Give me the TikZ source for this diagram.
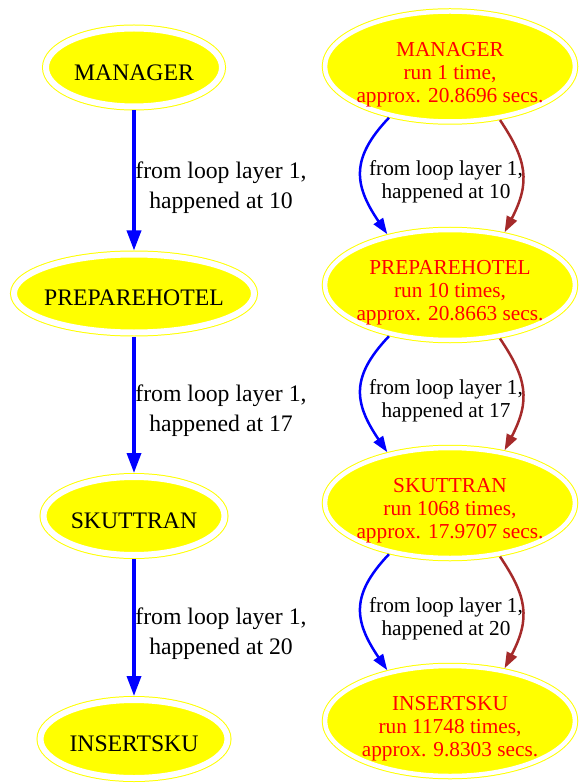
\documentclass[tikz,border=0pt]{standalone}
\usepackage{fontspec}
\setmainfont{Liberation Serif}
\usetikzlibrary{shapes.geometric,arrows.meta}
\definecolor{gvyellow}{HTML}{FFFF00}
\definecolor{gvblue}{HTML}{0000FF}
\definecolor{gvbrown}{HTML}{A52A2A}
\definecolor{gvred}{HTML}{FF0000}
\begin{document}
\begin{tikzpicture}[x=1pt,y=-1pt,
 lnode/.style={ellipse, draw=gvyellow, fill=gvyellow, double=white, double distance=6pt, line width=1pt, inner sep=0pt, outer sep=4pt, minimum height=78pt},
 rnode/.style={ellipse, draw=gvyellow, fill=gvyellow, double=white, double distance=4.5pt, line width=1pt, inner sep=0pt, outer sep=3.25pt, minimum width=250pt, minimum height=110pt},
 ltext/.style={font=\fontsize{23.7}{30}\selectfont, text=black, inner sep=0pt},
 rtext/.style={font=\fontsize{21.3}{23}\selectfont, text=gvred, align=center, inner sep=0pt},
 llabel/.style={font=\fontsize{23.7}{30}\selectfont, align=center, inner sep=0pt},
 rlabel/.style={font=\fontsize{21.3}{23}\selectfont, align=center, inner sep=0pt},
 ledge/.style={draw=gvblue, line width=3.5pt, -{Triangle[length=20pt,width=14pt]}},
 bedge/.style={draw=gvblue, line width=2.5pt, -{Triangle[length=16pt,width=11pt]}},
 redge/.style={draw=gvbrown, line width=2.5pt, -{Triangle[length=16pt,width=11pt]}},
]
\useasboundingbox (0,0) rectangle (579,783);
% left column
\node[lnode, minimum width=176pt] (lm) at (134,67.5) {};
\node[lnode, minimum width=240pt] (lp) at (134,293.5) {};
\node[lnode, minimum width=181pt] (ls) at (134,516) {};
\node[lnode, minimum width=187pt] (li) at (134,739) {};
\node[ltext] (lmt) at (134,72.5) {MANAGER};
\node[ltext] (lpt) at (134,298) {PREPAREHOTEL};
\node[ltext] (lst) at (134,520.5) {SKUTTRAN};
\node[ltext] (lit) at (134,743.5) {INSERTSKU};
\draw[ledge] (lm.south) -- (lp.north);
\draw[ledge] (lp.south) -- (ls.north);
\draw[ledge] (ls.south) -- (li.north);
\node[llabel] (ll1) at (221,188) {from loop layer 1,\\happened at 10};
\node[llabel] (ll2) at (221,411) {from loop layer 1,\\happened at 17};
\node[llabel] (ll3) at (221,634) {from loop layer 1,\\happened at 20};
% right column
\node[rnode] (rm) at (450,66.5) {};
\node[rnode] (rp) at (450,285) {};
\node[rnode] (rs) at (450,503) {};
\node[rnode] (ri) at (450,721) {};
\node[rtext] (rmt) at (450,75) {MANAGER\\run 1 time,\\approx. 20.8696 secs.};
\node[rtext] (rpt) at (450,293) {PREPAREHOTEL\\run 10 times,\\approx. 20.8663 secs.};
\node[rtext] (rst) at (450,511) {SKUTTRAN\\run 1068 times,\\approx. 17.9707 secs.};
\node[rtext] (rit) at (450,729) {INSERTSKU\\run 11748 times,\\approx. 9.8303 secs.};
\draw[bedge] (rm.220) .. controls +(-38,40) and +(-34,-50) .. (rp.141);
\draw[redge] (rm.313) .. controls +(27,40) and +(26,-50) .. (rp.44);
\draw[bedge] (rp.220) .. controls +(-38,40) and +(-34,-50) .. (rs.141);
\draw[redge] (rp.313) .. controls +(27,40) and +(26,-50) .. (rs.44);
\draw[bedge] (rs.220) .. controls +(-38,40) and +(-34,-50) .. (ri.141);
\draw[redge] (rs.313) .. controls +(27,40) and +(26,-50) .. (ri.44);
\node[rlabel] (rl1) at (446,182) {from loop layer 1,\\happened at 10};
\node[rlabel] (rl2) at (446,401) {from loop layer 1,\\happened at 17};
\node[rlabel] (rl3) at (446,619) {from loop layer 1,\\happened at 20};
\end{tikzpicture}
\end{document}
